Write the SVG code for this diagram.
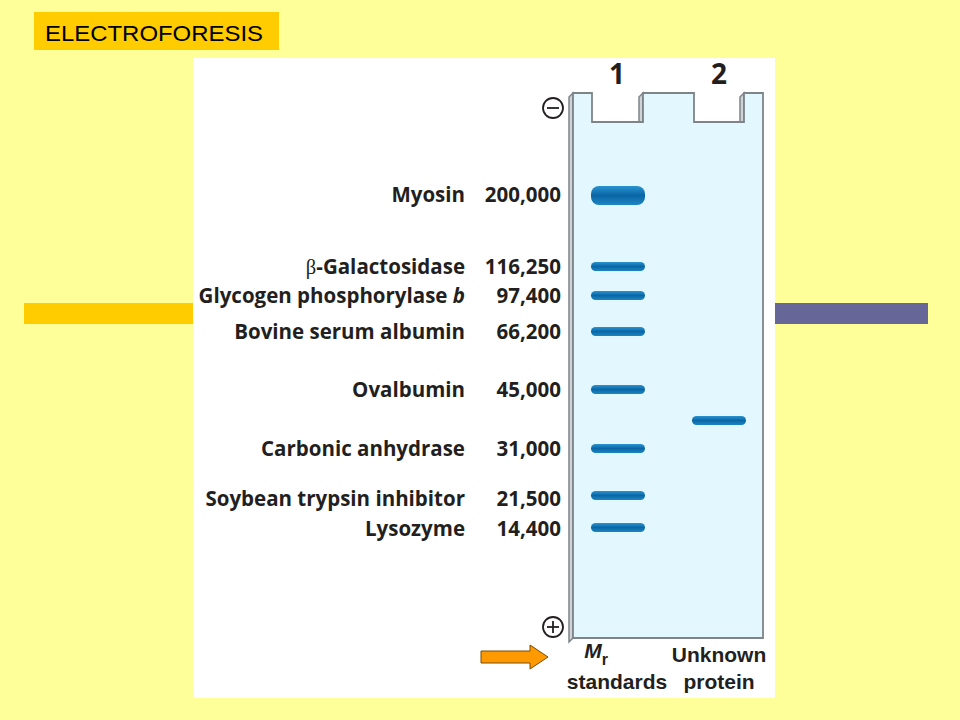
<svg xmlns="http://www.w3.org/2000/svg" width="960" height="720" viewBox="0 0 960 720">
<defs>
<linearGradient id="band" x1="0" y1="0" x2="0" y2="1">
<stop offset="0" stop-color="#2A93CF"/>
<stop offset="0.5" stop-color="#0A66A6"/>
<stop offset="1" stop-color="#1E86C2"/>
</linearGradient>
<style>
.lbl{font-family:"Open Sans","Liberation Sans",sans-serif;font-weight:700;font-size:20.5px;fill:#231F20;text-anchor:end}
.hd{font-family:"Open Sans","Liberation Sans",sans-serif;font-weight:700;font-size:28px;fill:#231F20;text-anchor:middle}
.bt{font-family:"Liberation Sans",Arial,sans-serif;font-weight:700;font-size:21px;fill:#231F20;text-anchor:middle}
.band{fill:url(#band)}
.side{fill:#CFD3D6;stroke:#7E8489;stroke-width:1.5}
.sign{fill:none;stroke:#231F20;stroke-width:1.8}
</style>
</defs>
<rect x="0" y="0" width="960" height="720" fill="#FFFF99"/>
<g id="title">
<rect x="34" y="12" width="245" height="38" fill="#FFCC00"/>
<text x="45" y="41" font-family="Liberation Sans, Arial, sans-serif" font-size="22" fill="#000" textLength="218" lengthAdjust="spacingAndGlyphs">ELECTROFORESIS</text>
</g>
<g id="bars">
<rect x="24" y="303" width="170" height="21" fill="#FFCC00"/>
<rect x="775" y="303" width="153" height="21" fill="#666699"/>
</g>
<rect x="193" y="58" width="582" height="640" fill="#FFFFFF"/>
<g id="gel">
<polygon class="side" points="569,97 573,93 573,638 569,642"/>
<polygon class="side" points="639,97 643,93 643,122 639,122"/>
<polygon class="side" points="740,97 744,93 744,122 740,122"/>
<path d="M573,93 L592,93 L592,122 L643,122 L643,93 L694,93 L694,122 L744,122 L744,93 L763,93 L763,638 L573,638 Z" fill="#E2F8FE" stroke="#7E8489" stroke-width="1.8"/>
</g>
<g id="bands">
<rect class="band" x="591" y="186" width="54" height="19" rx="8"/>
<rect class="band" x="591" y="262" width="54" height="9" rx="4.5"/>
<rect class="band" x="591" y="291" width="54" height="9" rx="4.5"/>
<rect class="band" x="591" y="327" width="54" height="9" rx="4.5"/>
<rect class="band" x="591" y="385" width="54" height="9" rx="4.5"/>
<rect class="band" x="591" y="444" width="54" height="9" rx="4.5"/>
<rect class="band" x="591" y="491" width="54" height="9" rx="4.5"/>
<rect class="band" x="591" y="523" width="54" height="9" rx="4.5"/>
<rect class="band" x="692" y="416" width="54" height="9" rx="4.5"/>
</g>
<g id="signs">
<circle class="sign" cx="553" cy="108" r="10"/>
<line class="sign" x1="547" y1="108" x2="559" y2="108"/>
<circle class="sign" cx="553" cy="627" r="10"/>
<line class="sign" x1="547" y1="627" x2="559" y2="627"/>
<line class="sign" x1="553" y1="621" x2="553" y2="633"/>
</g>
<g id="headings">
<text class="hd" x="617" y="84">1</text>
<text class="hd" x="719" y="84">2</text>
</g>
<g id="labels">
<text class="lbl" x="465" y="202">Myosin</text>
<text class="lbl" x="561" y="202">200,000</text>
<text class="lbl" x="465" y="274"><tspan font-family="Liberation Serif, serif" font-weight="400">β</tspan>-Galactosidase</text>
<text class="lbl" x="561" y="274">116,250</text>
<text class="lbl" x="465" y="303">Glycogen phosphorylase <tspan font-style="italic">b</tspan></text>
<text class="lbl" x="561" y="303">97,400</text>
<text class="lbl" x="465" y="339">Bovine serum albumin</text>
<text class="lbl" x="561" y="339">66,200</text>
<text class="lbl" x="465" y="397">Ovalbumin</text>
<text class="lbl" x="561" y="397">45,000</text>
<text class="lbl" x="465" y="456">Carbonic anhydrase</text>
<text class="lbl" x="561" y="456">31,000</text>
<text class="lbl" x="465" y="506">Soybean trypsin inhibitor</text>
<text class="lbl" x="561" y="506">21,500</text>
<text class="lbl" x="465" y="536">Lysozyme</text>
<text class="lbl" x="561" y="536">14,400</text>
</g>
<g id="bottom">
<text class="bt" x="596" y="658"><tspan font-style="italic">M</tspan><tspan dy="7" font-size="16">r</tspan></text>
<text class="bt" x="617" y="689">standards</text>
<text class="bt" x="719" y="662">Unknown</text>
<text class="bt" x="719" y="689">protein</text>
</g>
<g id="arrow">
<polygon points="481,651 530,651 530,645 548,657 530,669 530,663 481,663" fill="#FF9900" stroke="#7A4A00" stroke-width="1"/>
</g>
</svg>
